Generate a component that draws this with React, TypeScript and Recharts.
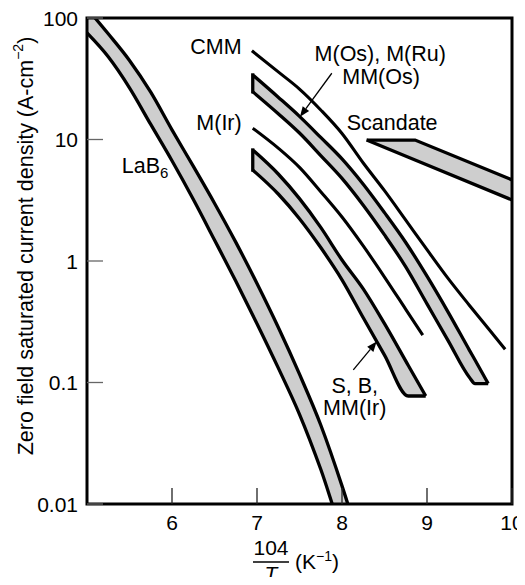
import React from 'react';
import {
  ComposedChart,
  Area,
  Line,
  XAxis,
  YAxis,
  ReferenceArea,
  ReferenceDot,
  ReferenceLine,
} from 'recharts';

const FONT = '"Liberation Sans", Arial, Helvetica, sans-serif';

// axes
const xTicks = [6, 7, 8, 9, 10];
const yTicks = [0.01, 0.1, 1, 10, 100];
const yTickLabels: Record<number, string> = { 0.01: '0.01', 0.1: '0.1', 1: '1', 10: '10', 100: '100' };

// LaB6 band
const lab6X = [5.0, 5.25, 5.5, 5.75, 6.0, 6.25, 6.5, 6.75, 7.0, 7.25, 7.5, 7.75, 8.0, 8.15];
const lab6Lo = [75.3, 47.9, 26.6, 13.3, 6.68, 3.22, 1.49, 0.684, 0.305, 0.132, 0.0547, 0.0193, 0.0059, 0.0035];
const lab6Hi = [120, 74.1, 44.7, 24.5, 12.0, 6.03, 2.99, 1.43, 0.653, 0.285, 0.117, 0.0447, 0.0141, 0.0066];

// M(Os), M(Ru), MM(Os) band
const mosX = [6.95, 7.25, 7.5, 7.75, 8.0, 8.25, 8.5, 8.75, 9.0, 9.25, 9.5, 9.565, 9.72];
const mosLo = [24.7, 16.3, 11.3, 7.38, 4.79, 2.88, 1.64, 0.895, 0.444, 0.22, 0.11, 0.098, 0.098];
const mosHi = [34.0, 22.3, 15.5, 10.4, 6.92, 4.28, 2.5, 1.42, 0.75, 0.378, 0.184, 0.153, 0.098];

// S, B, MM(Ir) band
const sbX = [6.95, 7.25, 7.5, 7.75, 8.0, 8.25, 8.5, 8.78, 8.985];
const sbLo = [5.61, 3.56, 2.23, 1.29, 0.7, 0.341, 0.168, 0.0774, 0.0774];
const sbHi = [8.2, 5.2, 3.26, 1.89, 1.02, 0.59, 0.305, 0.138, 0.0774];

// Scandate band
const scX = [8.29, 8.86, 10];
const scLo = [9.9, 6.78, 3.18];
const scHi = [9.9, 9.9, 4.65];

// CMM line
const cmmX = [6.94, 7.25, 7.5, 7.75, 8.0, 8.25, 8.5, 8.75, 9.0, 9.25, 9.5, 9.75, 9.92];
const cmmY = [53.8, 36.0, 26.0, 17.5, 11.2, 6.4, 3.79, 2.17, 1.24, 0.716, 0.431, 0.263, 0.1875];

// M(Ir) line
const mirX = [6.95, 7.25, 7.5, 7.75, 8.0, 8.25, 8.5, 8.75, 8.95];
const mirY = [12.4, 8.5, 5.9, 3.72, 2.3, 1.33, 0.738, 0.4, 0.245];

// annotations
const noteText = ['CMM', 'M(Ir)', 'M(Os), M(Ru)', 'MM(Os)', 'Scandate', 'S, B,', 'MM(Ir)'];
const noteX = [6.82, 6.82, 8.45, 8.46, 8.59, 8.15, 8.15];
const noteY = [57.7, 13.7, 50.6, 33.0, 13.7, 0.0944, 0.0617];
const noteAnchor = ['end', 'end', 'middle', 'middle', 'middle', 'middle', 'middle'];
const lab6Note = { x: 5.41, y: 6.05 };

const arrowFromX = [7.88, 8.133];
const arrowFromY = [35.1, 0.127];
const arrowToX = [7.506, 8.408];
const arrowToY = [15.4, 0.217];

const band = (xs: number[], lo: number[], hi: number[]) =>
  xs.map((x, i) => ({ x, r: [lo[i], hi[i]] }));
const line = (xs: number[], ys: number[]) => xs.map((x, i) => ({ x, y: ys[i] }));

const lab6Data = band(lab6X, lab6Lo, lab6Hi);
const mosData = band(mosX, mosLo, mosHi);
const sbData = band(sbX, sbLo, sbHi);
const scData = band(scX, scLo, scHi);
const cmmData = line(cmmX, cmmY);
const mirData = line(mirX, mirY);
const mosCap = line([mosX[0], mosX[0]], [mosLo[0], mosHi[0]]);
const sbCap = line([sbX[0], sbX[0]], [sbLo[0], sbHi[0]]);

const FILL = '#cecece';
const TICK_FS = 21;
const NOTE_FS = 21.5;

const BottomTick = (p: any) => {
  const { x, y, payload } = p;
  return (
    <g>
      <line x1={x} y1={y} x2={x} y2={y - 16} stroke="#222" strokeWidth={1.3} />
      <text x={x} y={y + 18} textAnchor="middle" dominantBaseline="central" fontSize={TICK_FS} fontFamily={FONT} fill="#000">
        {payload.value}
      </text>
    </g>
  );
};

const TopTick = (p: any) => {
  const { x, y } = p;
  return <line x1={x} y1={y} x2={x} y2={y + 16} stroke="#222" strokeWidth={1.3} />;
};

const LeftTick = (p: any) => {
  const { x, y, payload } = p;
  return (
    <g>
      <line x1={x} y1={y} x2={x + 16} y2={y} stroke="#666" strokeWidth={1.3} />
      <text x={x - 9} y={y} textAnchor="end" dominantBaseline="central" fontSize={TICK_FS} fontFamily={FONT} fill="#000">
        {yTickLabels[payload.value] ?? String(payload.value)}
      </text>
    </g>
  );
};

const RightTick = (p: any) => {
  const { x, y } = p;
  return <line x1={x} y1={y} x2={x - 16} y2={y} stroke="#666" strokeWidth={1.3} />;
};

const YTitle = () => (
  <text
    x={18}
    y={238}
    transform="rotate(-90 18 238)"
    textAnchor="middle"
    dominantBaseline="central"
    fontSize={21.5}
    fontFamily={FONT}
    fill="#000"
  >
    Zero field saturated current density (A-cm
    <tspan dy={-8} fontSize={14}>−2</tspan>
    <tspan dy={8}>)</tspan>
  </text>
);

const XTitle = () => (
  <g fontFamily={FONT} fill="#000">
    <text x={263} y={547} textAnchor="middle" fontSize={21}>104</text>
    <line x1={245} y1={554} x2={281} y2={554} stroke="#000" strokeWidth={1.3} />
    <text x={263} y={573} textAnchor="middle" fontSize={21} fontStyle="italic">T</text>
    <text x={287} y={561} textAnchor="start" fontSize={21}>
      (K<tspan dy={-8} fontSize={14}>−1</tspan>
      <tspan dy={8}>)</tspan>
    </text>
  </g>
);

const NoteShape = (text: string, anchor: string) => (p: any) => (
  <text
    x={p.cx}
    y={p.cy}
    textAnchor={anchor as any}
    dominantBaseline="central"
    fontSize={NOTE_FS}
    fontFamily={FONT}
    fill="#000"
  >
    {text}
  </text>
);

const Lab6Shape = (p: any) => (
  <text x={p.cx} y={p.cy} textAnchor="start" dominantBaseline="central" fontSize={NOTE_FS} fontFamily={FONT} fill="#000">
    LaB<tspan dy={6} fontSize={15}>6</tspan>
  </text>
);

const ArrowShape = (p: any) => {
  const { x1, y1, x2, y2 } = p;
  const dx = x2 - x1;
  const dy = y2 - y1;
  const len = Math.sqrt(dx * dx + dy * dy) || 1;
  const ux = dx / len;
  const uy = dy / len;
  const hl = 10;
  const hw = 4;
  const bx = x2 - ux * hl;
  const by = y2 - uy * hl;
  const pts = `${x2},${y2} ${bx - uy * hw},${by + ux * hw} ${bx + uy * hw},${by - ux * hw}`;
  return (
    <g>
      <line x1={x1} y1={y1} x2={bx} y2={by} stroke="#000" strokeWidth={1.3} />
      <polygon points={pts} fill="#000" />
    </g>
  );
};

export default function App() {
  return (
    <div style={{ width: 517, height: 577, marginRight: -8, marginBottom: -8 }}>
      <ComposedChart width={517} height={577} margin={{ top: 10, right: 13, bottom: 0, left: 0 }}>
        <XAxis
          xAxisId={0}
          dataKey="x"
          type="number"
          domain={[5, 10]}
          allowDataOverflow
          ticks={xTicks}
          interval={0}
          height={81}
          axisLine={false}
          tickLine={false}
          tickSize={0}
          tickMargin={0}
          tick={<BottomTick />}
          label={<XTitle />}
        />
        <XAxis
          xAxisId="top"
          orientation="top"
          dataKey="x"
          type="number"
          domain={[5, 10]}
          allowDataOverflow
          ticks={[6, 7, 8, 9]}
          interval={0}
          height={0}
          axisLine={false}
          tickLine={false}
          tickSize={0}
          tickMargin={0}
          tick={<TopTick />}
        />
        <YAxis
          yAxisId={0}
          scale="log"
          type="number"
          domain={[0.01, 100]}
          allowDataOverflow
          ticks={yTicks}
          interval={0}
          width={79}
          axisLine={false}
          tickLine={false}
          tickSize={0}
          tickMargin={0}
          tick={<LeftTick />}
          label={<YTitle />}
        />
        <YAxis
          yAxisId="right"
          orientation="right"
          scale="log"
          type="number"
          domain={[0.01, 100]}
          allowDataOverflow
          ticks={[0.1, 1, 10]}
          interval={0}
          width={0}
          axisLine={false}
          tickLine={false}
          tickSize={0}
          tickMargin={0}
          tick={<RightTick />}
        />

        <Area data={lab6Data} dataKey="r" type="monotone" stroke="#000" strokeWidth={3.3} fill={FILL} fillOpacity={1} dot={false} activeDot={false} isAnimationActive={false} />
        <Area data={mosData} dataKey="r" type="monotone" stroke="#000" strokeWidth={3.3} fill={FILL} fillOpacity={1} dot={false} activeDot={false} isAnimationActive={false} />
        <Area data={sbData} dataKey="r" type="monotone" stroke="#000" strokeWidth={3.3} fill={FILL} fillOpacity={1} dot={false} activeDot={false} isAnimationActive={false} />
        <Area data={scData} dataKey="r" type="linear" stroke="#000" strokeWidth={3.3} fill={FILL} fillOpacity={1} dot={false} activeDot={false} isAnimationActive={false} />
        <Line data={mosCap} dataKey="y" type="linear" stroke="#000" strokeWidth={3.3} strokeLinecap="square" dot={false} activeDot={false} isAnimationActive={false} />
        <Line data={sbCap} dataKey="y" type="linear" stroke="#000" strokeWidth={3.3} strokeLinecap="square" dot={false} activeDot={false} isAnimationActive={false} />
        <Line data={cmmData} dataKey="y" type="monotone" stroke="#000" strokeWidth={3.1} dot={false} activeDot={false} isAnimationActive={false} />
        <Line data={mirData} dataKey="y" type="monotone" stroke="#000" strokeWidth={3.1} dot={false} activeDot={false} isAnimationActive={false} />

        {noteText.map((t, i) => (
          <ReferenceDot key={t} x={noteX[i]} y={noteY[i]} r={0} shape={NoteShape(t, noteAnchor[i])} />
        ))}
        <ReferenceDot x={lab6Note.x} y={lab6Note.y} r={0} shape={Lab6Shape} />
        {arrowFromX.map((fx, i) => (
          <ReferenceLine
            key={'a' + i}
            segment={[
              { x: fx, y: arrowFromY[i] },
              { x: arrowToX[i], y: arrowToY[i] },
            ]}
            shape={ArrowShape}
          />
        ))}

        <ReferenceArea x1={5} x2={10} y1={0.01} y2={100} fill="none" stroke="#000" strokeWidth={3} ifOverflow="visible" />
      </ComposedChart>
    </div>
  );
}
